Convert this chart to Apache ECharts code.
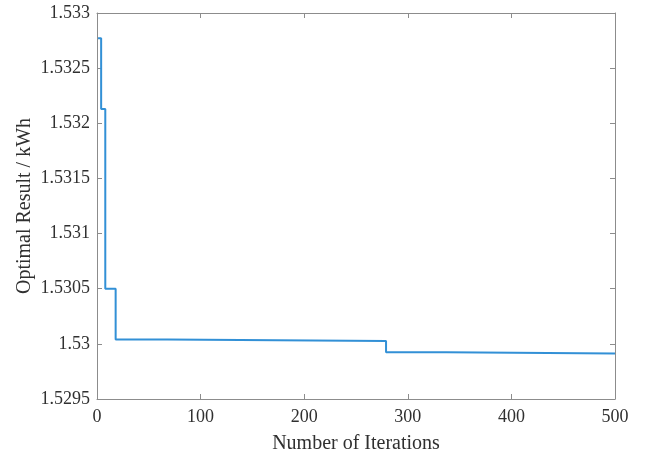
<!DOCTYPE html>
<html>
<head>
<meta charset="utf-8">
<script src="https://cdn.jsdelivr.net/npm/echarts@6/dist/echarts.min.js"></script>
<style>
  html, body { margin: 0; padding: 0; background: #fff; }
  #chart { width: 652px; height: 452px; }
</style>
</head>
<body>
<div id="chart"></div>
<script>
// Iterations at which the best result changes, and the result held from there on
const iterations = [1, 4, 8, 18, 68, 279, 337, 500];
const optimalResult = [1.53277, 1.53213, 1.5305, 1.530039, 1.530027, 1.529925, 1.529912, 1.529912];

const xTicks = [0, 100, 200, 300, 400, 500];
const yTicks = [1.5295, 1.53, 1.5305, 1.531, 1.5315, 1.532, 1.5325, 1.533];

const xLabel = 'Number of Iterations';
const yLabel = 'Optimal Result / kWh';

const font = 'Liberation Serif, Times New Roman, serif';
const axisGray = '#8c8c8c';
const textColor = '#303030';

const points = iterations.map((x, i) => [x, optimalResult[i]]);

const yMin = yTicks[0], yMax = yTicks[yTicks.length - 1];
const yStep = 0.0005;

function baseX(pos, showLabels) {
  return {
    type: 'value', position: pos, min: xTicks[0], max: xTicks[xTicks.length - 1], interval: 100,
    axisLine: { show: true, onZero: false, lineStyle: { color: axisGray, width: 1 } },
    axisTick: { show: true, inside: true, length: 5, lineStyle: { color: axisGray } },
    axisLabel: { show: showLabels, color: textColor, fontFamily: font, fontSize: 18, margin: 9 },
    splitLine: { show: false }
  };
}
function baseY(pos, showLabels) {
  return {
    type: 'value', position: pos, min: yMin, max: yMax, interval: yStep,
    axisLine: { show: true, onZero: false, lineStyle: { color: axisGray, width: 1 } },
    axisTick: { show: true, inside: true, length: 5, lineStyle: { color: axisGray } },
    axisLabel: {
      show: showLabels, color: textColor, fontFamily: font, fontSize: 18, margin: 7,
      formatter: v => String(parseFloat(v.toFixed(4)))
    },
    splitLine: { show: false }
  };
}

const xBottom = baseX('bottom', true);
xBottom.name = xLabel;
xBottom.nameLocation = 'middle';
xBottom.nameGap = 35;
xBottom.nameMoveOverlap = false;
xBottom.nameTextStyle = { color: textColor, fontFamily: font, fontSize: 20 };

const yLeft = baseY('left', true);
yLeft.name = yLabel;
yLeft.nameLocation = 'middle';
yLeft.nameGap = 62;
yLeft.nameMoveOverlap = false;
yLeft.nameTextStyle = { color: textColor, fontFamily: font, fontSize: 20 };

const chart = echarts.init(document.getElementById('chart'), null, { renderer: 'canvas' });
chart.setOption({
  animation: false,
  backgroundColor: '#ffffff',
  grid: { left: 97, right: 37, top: 13, bottom: 53, containLabel: false, outerBoundsMode: 'none' },
  xAxis: [xBottom, baseX('top', false)],
  yAxis: [yLeft, baseY('right', false)],
  series: [{
    type: 'line',
    xAxisIndex: 0,
    yAxisIndex: 0,
    step: 'end',
    data: points,
    showSymbol: false,
    lineStyle: { color: '#3290d6', width: 2 }
  }]
});
</script>
</body>
</html>
